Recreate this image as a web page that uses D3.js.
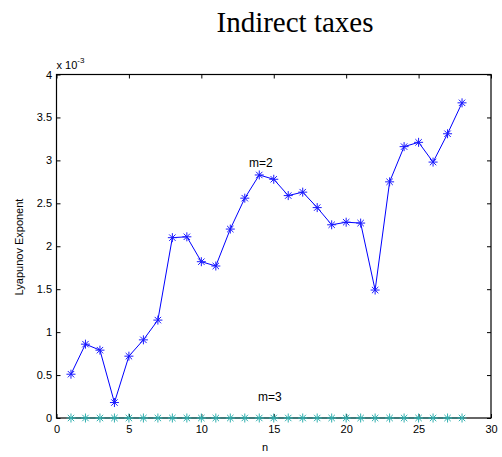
<!DOCTYPE html>
<html><head><meta charset="utf-8">
<script src="https://cdn.jsdelivr.net/npm/d3@7"></script>
<style>body{margin:0;background:#fff}svg{display:block}text{font-family:"Liberation Sans",Arial,sans-serif}</style>
</head><body><svg id="c" width="502" height="457"></svg>
<script>
const n = d3.range(1, 29);
const m2 = [0.51,0.86,0.79,0.18,0.72,0.91,1.14,2.10,2.11,1.82,1.77,2.20,2.56,2.83,2.78,2.59,2.63,2.45,2.25,2.28,2.27,1.49,2.75,3.16,3.21,2.98,3.31,3.67];
const m3 = n.map(() => 0);
const xTicks = [0,5,10,15,20,25,30];
const yTicks = [0,0.5,1,1.5,2,2.5,3,3.5,4];
const yTickLabels = ["0","0.5","1","1.5","2","2.5","3","3.5","4"];

const svg = d3.select("#c");
const L=56.5, R=491, T=74.5, B=418;
const x = d3.scaleLinear().domain([0,30]).range([L,R]);
const y = d3.scaleLinear().domain([0,4]).range([B,T]);

svg.append("text").attr("x",295).attr("y",32).attr("text-anchor","middle")
  .style("font-family","'Liberation Serif','Times New Roman',serif").style("font-size","29px").text("Indirect taxes");

const g = svg.append("g");
const tl = 4;
g.append("g").attr("transform",`translate(0,${B})`).call(d3.axisBottom(x).tickValues(xTicks).tickSize(-tl).tickPadding(5).tickFormat(d3.format("d")))
 .call(a=>{a.select(".domain").remove();a.selectAll("text").style("font-size","11px").attr("dy","0.9em");});
g.append("g").attr("transform",`translate(0,${T})`).call(d3.axisTop(x).tickValues(xTicks).tickSize(-tl).tickFormat(""))
 .call(a=>a.select(".domain").remove());
g.append("g").attr("transform",`translate(${L},0)`).call(d3.axisLeft(y).tickValues(yTicks).tickSize(-tl).tickPadding(4.5).tickFormat((d,i)=>yTickLabels[i]))
 .call(a=>{a.select(".domain").remove();a.selectAll("text").style("font-size","11px");});
g.append("g").attr("transform",`translate(${R},0)`).call(d3.axisRight(y).tickValues(yTicks).tickSize(-tl).tickFormat(""))
 .call(a=>a.select(".domain").remove());
g.append("rect").attr("x",L).attr("y",T).attr("width",R-L).attr("height",B-T).attr("fill","none").attr("stroke","#000").attr("stroke-width",1.2);

svg.append("text").attr("x",56.5).attr("y",69).style("font-size","11px").text("x 10")
  .append("tspan").attr("dy",-6).style("font-size","8px").text("-3");

svg.append("text").attr("transform","translate(23,247) rotate(-90)").attr("text-anchor","middle").style("font-size","11px").text("Lyapunov Exponent");
svg.append("text").attr("x",265).attr("y",451).attr("text-anchor","middle").style("font-size","11px").text("n");

function series(vals, color, lineColor){
  const line = d3.line().x((d,i)=>x(n[i])).y(d=>y(d));
  svg.append("path").attr("d",line(vals)).attr("fill","none").attr("stroke",lineColor).attr("stroke-width",1);
  const r=4.5, r2=3.2;
  const mk = svg.append("g").selectAll("g").data(vals).join("g")
    .attr("transform",(d,i)=>`translate(${x(n[i])},${y(d)})`).attr("stroke",color).attr("stroke-width",1);
  mk.append("line").attr("x1",-r).attr("x2",r);
  mk.append("line").attr("y1",-r).attr("y2",r);
  mk.append("line").attr("x1",-r2).attr("y1",-r2).attr("x2",r2).attr("y2",r2);
  mk.append("line").attr("x1",-r2).attr("y1",r2).attr("x2",r2).attr("y2",-r2);
}
series(m2,"#1a1aff","#0000ff");
series(m3,"#30b0b0","#1a8f8f");

svg.append("text").attr("x",249).attr("y",167).style("font-size","12px").text("m=2");
svg.append("text").attr("x",258).attr("y",401).style("font-size","12px").text("m=3");
</script></body></html>
